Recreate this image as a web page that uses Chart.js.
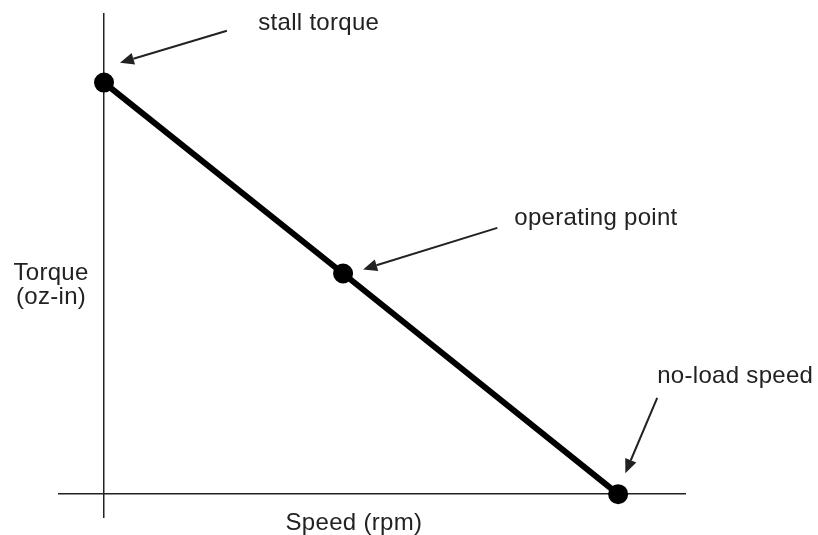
<!DOCTYPE html>
<html>
<head>
<meta charset="utf-8">
<script src="https://cdn.jsdelivr.net/npm/chart.js@4"></script>
<style>
  html, body { margin: 0; padding: 0; background: #fff; }
  #wrap { width: 818px; height: 535px; }
</style>
</head>
<body>
<div id="wrap"><canvas id="chart"></canvas></div>
<script>
// speed (rpm) and torque (oz-in), in relative units (no-load speed = 100, stall torque = 100)
const speed = [0, 46.5, 100];
const torque = [100, 53.6, 0];

// annotation labels and where they point (data units)
const noteLabels = ["stall torque", "operating point", "no-load speed"];
const noteTextX = [30.0, 79.8, 107.6];
const noteTextY = [114.5, 66.9, 28.7];
const arrowFromX = [23.9, 76.5, 107.6];
const arrowFromY = [112.6, 64.7, 23.4];
const arrowToX = [3.1, 50.4, 101.4];
const arrowToY = [104.8, 54.6, 5.1];

const xTitle = "Speed (rpm)";
const yTitle = ["Torque", "(oz-in)"];

const ink = "#222";
const font = "24px 'Liberation Sans', Arial, sans-serif";

// рисуем подписи и стрелки
const notesPlugin = {
  id: "notes",
  afterDatasetsDraw(chart) {
    const { ctx, scales } = chart;
    const x = scales.x, y = scales.y;
    ctx.save();
    ctx.fillStyle = ink;
    ctx.strokeStyle = ink;
    ctx.font = font;
    ctx.letterSpacing = "0.3px";
    ctx.textBaseline = "middle";

    for (let i = 0; i < noteLabels.length; i++) {
      ctx.textAlign = "left";
      ctx.fillText(noteLabels[i], x.getPixelForValue(noteTextX[i]), y.getPixelForValue(noteTextY[i]));

      const x0 = x.getPixelForValue(arrowFromX[i]), y0 = y.getPixelForValue(arrowFromY[i]);
      const x1 = x.getPixelForValue(arrowToX[i]), y1 = y.getPixelForValue(arrowToY[i]);
      const ang = Math.atan2(y1 - y0, x1 - x0);
      const head = 14, half = 6;
      const bx = x1 - head * Math.cos(ang), by = y1 - head * Math.sin(ang);
      ctx.lineWidth = 2;
      ctx.beginPath();
      ctx.moveTo(x0, y0);
      ctx.lineTo(bx, by);
      ctx.stroke();
      ctx.beginPath();
      ctx.moveTo(x1, y1);
      ctx.lineTo(bx + half * Math.sin(ang), by - half * Math.cos(ang));
      ctx.lineTo(bx - half * Math.sin(ang), by + half * Math.cos(ang));
      ctx.closePath();
      ctx.fill();
    }

    // axis titles
    ctx.textAlign = "center";
    ctx.fillText(xTitle, x.getPixelForValue(48.6), y.getPixelForValue(-7.0));
    ctx.fillText(yTitle[0], x.getPixelForValue(-10.3), y.getPixelForValue(53.6));
    ctx.fillText(yTitle[1], x.getPixelForValue(-10.3), y.getPixelForValue(47.8));
    ctx.restore();
  },
};

// only the zero line of each axis is drawn
function zeroAxis(min, max) {
  return {
    type: "linear",
    min: min,
    max: max,
    afterBuildTicks: (scale) => { scale.ticks = [{ value: 0 }]; },
    ticks: { display: false },
    border: { display: false },
    grid: { color: ink, lineWidth: 1.5, drawTicks: false },
  };
}

window.addEventListener("load", function () {
  const ctx = document.getElementById("chart").getContext("2d");
  new Chart(ctx, {
    type: "scatter",
    data: {
      datasets: [
        {
          data: speed.map((s, i) => ({ x: s, y: torque[i] })),
          showLine: true,
          borderColor: "#000",
          backgroundColor: "#000",
          borderWidth: 6,
          pointRadius: 7,
          pointHoverRadius: 7,
          clip: false,
        },
      ],
    },
    options: {
      responsive: true,
      maintainAspectRatio: false,
      animation: false,
      layout: { padding: { left: 58, right: 132, top: 10, bottom: 17 } },
      plugins: { legend: { display: false }, tooltip: { enabled: false } },
      scales: {
        x: zeroAxis(-8.95, 113.2),
        y: zeroAxis(-5.8, 116.9),
      },
    },
    plugins: [notesPlugin],
  });
});
</script>
</body>
</html>
